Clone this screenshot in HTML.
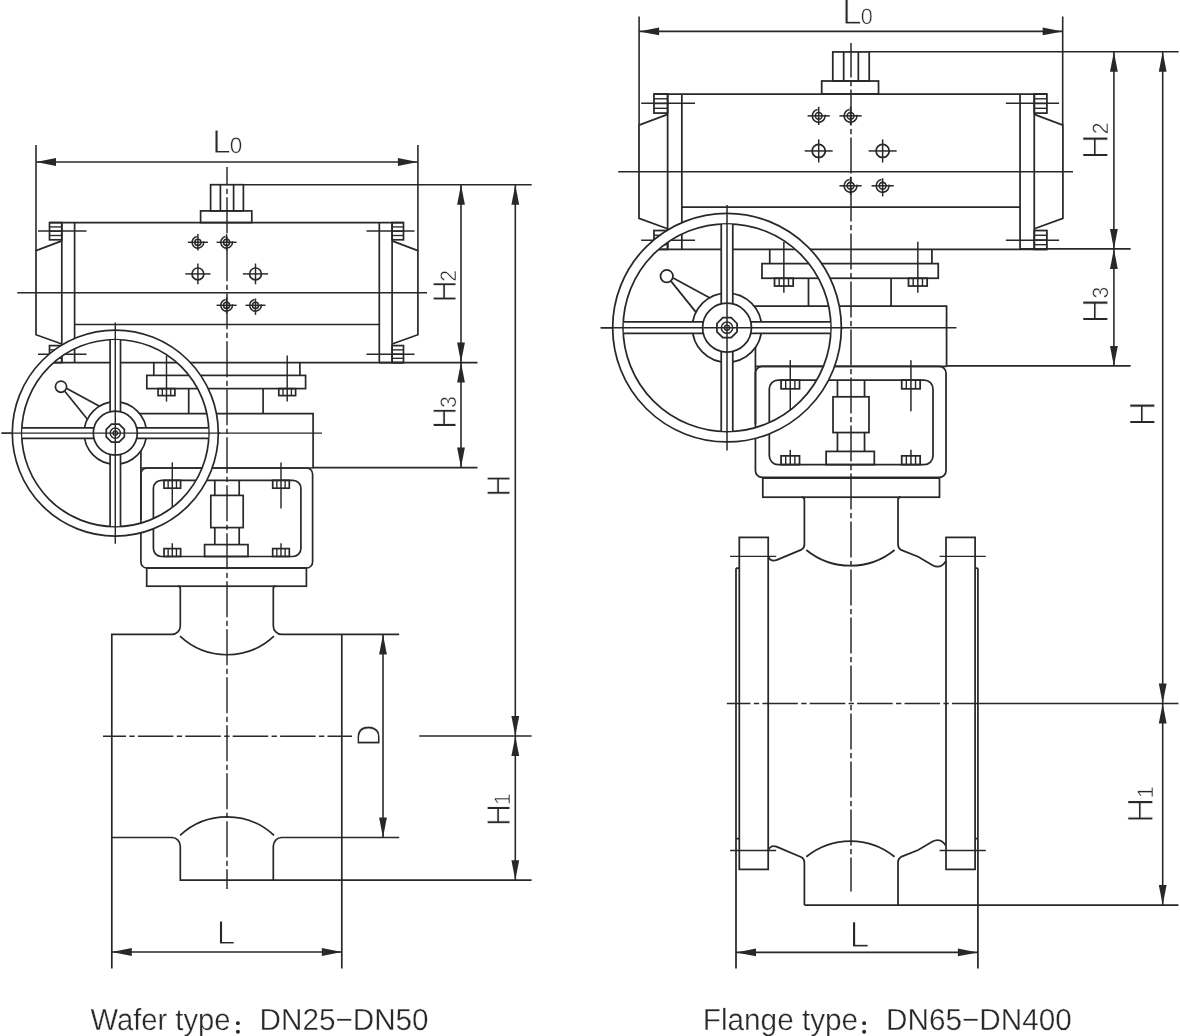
<!DOCTYPE html>
<html><head><meta charset="utf-8"><title>Valve dimensions</title>
<style>html,body{margin:0;padding:0;background:#fff}svg{display:block;filter:grayscale(1)}</style></head>
<body>
<svg width="1180" height="1036" viewBox="0 0 1180 1036" font-family="'Liberation Sans', 'Noto Sans CJK SC', sans-serif">
<rect width="1180" height="1036" fill="#fff"/>
<g stroke="#2b2728" fill="none" stroke-linecap="butt" stroke-linejoin="miter">
<line x1="227" y1="167" x2="227" y2="889" stroke-width="1.45" stroke-dasharray="36 3.4 5.2 3.4" stroke-dashoffset="17.7"/>
<rect x="210.6" y="184.7" width="32.8" height="26.2" fill="none" stroke-width="1.7"/>
<line x1="220.4" y1="184.7" x2="220.4" y2="210.9" stroke-width="1.7"/>
<line x1="233.6" y1="184.7" x2="233.6" y2="210.9" stroke-width="1.7"/>
<rect x="200.6" y="210.9" width="51.2" height="11.7" fill="none" stroke-width="1.7"/>
<line x1="49.5" y1="222.6" x2="403.5" y2="222.6" stroke-width="1.7"/>
<line x1="49.5" y1="362.6" x2="403.5" y2="362.6" stroke-width="1.7"/>
<line x1="61.8" y1="222.6" x2="61.8" y2="362.6" stroke-width="1.7"/>
<line x1="74.6" y1="222.6" x2="74.6" y2="362.6" stroke-width="1.7"/>
<line x1="379.3" y1="222.6" x2="379.3" y2="362.6" stroke-width="1.7"/>
<line x1="392.1" y1="222.6" x2="392.1" y2="362.6" stroke-width="1.7"/>
<line x1="74.6" y1="324.5" x2="379.3" y2="324.5" stroke-width="1.7"/>
<path d="M61.8 240.9 L36 250.6 L36 334.7 L61.8 344" fill="none" stroke-width="1.7"/>
<path d="M392.1 240.9 L417.9 250.6 L417.9 334.7 L392.1 344" fill="none" stroke-width="1.7"/>
<rect x="49.5" y="222.6" width="12.3" height="17.2" fill="none" stroke-width="1.7"/>
<line x1="49.5" y1="226.9" x2="61.8" y2="226.9" stroke-width="1.36"/>
<line x1="49.5" y1="231.2" x2="61.8" y2="231.2" stroke-width="1.36"/>
<line x1="49.5" y1="235.5" x2="61.8" y2="235.5" stroke-width="1.36"/>
<rect x="49.5" y="345.6" width="12.3" height="17" fill="none" stroke-width="1.7"/>
<line x1="49.5" y1="349.85" x2="61.8" y2="349.85" stroke-width="1.36"/>
<line x1="49.5" y1="354.1" x2="61.8" y2="354.1" stroke-width="1.36"/>
<line x1="49.5" y1="358.35" x2="61.8" y2="358.35" stroke-width="1.36"/>
<rect x="392.1" y="222.6" width="11.4" height="17.2" fill="none" stroke-width="1.7"/>
<line x1="392.1" y1="226.9" x2="403.5" y2="226.9" stroke-width="1.36"/>
<line x1="392.1" y1="231.2" x2="403.5" y2="231.2" stroke-width="1.36"/>
<line x1="392.1" y1="235.5" x2="403.5" y2="235.5" stroke-width="1.36"/>
<rect x="392.1" y="345.6" width="11.4" height="17" fill="none" stroke-width="1.7"/>
<line x1="392.1" y1="349.85" x2="403.5" y2="349.85" stroke-width="1.36"/>
<line x1="392.1" y1="354.1" x2="403.5" y2="354.1" stroke-width="1.36"/>
<line x1="392.1" y1="358.35" x2="403.5" y2="358.35" stroke-width="1.36"/>
<line x1="38" y1="230.9" x2="86.5" y2="230.9" stroke-width="1.45"/>
<line x1="366.5" y1="230.9" x2="414.5" y2="230.9" stroke-width="1.45"/>
<line x1="38" y1="354.3" x2="86.5" y2="354.3" stroke-width="1.45"/>
<line x1="366.5" y1="354.3" x2="414.5" y2="354.3" stroke-width="1.45"/>
<line x1="17.3" y1="292.7" x2="427" y2="292.7" stroke-width="1.45"/>
<circle cx="197.9" cy="273.9" r="5.9" fill="none" stroke-width="1.7"/>
<line x1="185.3" y1="273.9" x2="210.5" y2="273.9" stroke-width="1.45"/>
<line x1="197.9" y1="263.5" x2="197.9" y2="284.3" stroke-width="1.45"/>
<circle cx="255.5" cy="273.9" r="5.9" fill="none" stroke-width="1.7"/>
<line x1="242.9" y1="273.9" x2="268.1" y2="273.9" stroke-width="1.45"/>
<line x1="255.5" y1="263.5" x2="255.5" y2="284.3" stroke-width="1.45"/>
<circle cx="197.9" cy="242.3" r="3.1" fill="none" stroke-width="1.53"/>
<path d="M196.89 236.59 A5.8 5.8 0 1 0 203.61 241.29" fill="none" stroke-width="1.53"/>
<line x1="187.9" y1="242.3" x2="207.9" y2="242.3" stroke-width="1.45"/>
<line x1="197.9" y1="234.1" x2="197.9" y2="250.5" stroke-width="1.45"/>
<circle cx="226.6" cy="242.3" r="3.1" fill="none" stroke-width="1.53"/>
<path d="M225.59 236.59 A5.8 5.8 0 1 0 232.31 241.29" fill="none" stroke-width="1.53"/>
<line x1="216.6" y1="242.3" x2="236.6" y2="242.3" stroke-width="1.45"/>
<line x1="226.6" y1="234.1" x2="226.6" y2="250.5" stroke-width="1.45"/>
<circle cx="226.6" cy="305.3" r="3.1" fill="none" stroke-width="1.53"/>
<path d="M225.59 299.59 A5.8 5.8 0 1 0 232.31 304.29" fill="none" stroke-width="1.53"/>
<line x1="216.6" y1="305.3" x2="236.6" y2="305.3" stroke-width="1.45"/>
<line x1="226.6" y1="297.1" x2="226.6" y2="313.5" stroke-width="1.45"/>
<circle cx="255.5" cy="305.3" r="3.1" fill="none" stroke-width="1.53"/>
<path d="M254.49 299.59 A5.8 5.8 0 1 0 261.21 304.29" fill="none" stroke-width="1.53"/>
<line x1="245.5" y1="305.3" x2="265.5" y2="305.3" stroke-width="1.45"/>
<line x1="255.5" y1="298.5" x2="255.5" y2="314.9" stroke-width="1.45"/>
<line x1="153.8" y1="362.6" x2="153.8" y2="375.4" stroke-width="1.7"/>
<line x1="299.9" y1="362.6" x2="299.9" y2="375.4" stroke-width="1.7"/>
<rect x="146.8" y="375.4" width="158.8" height="13.2" fill="none" stroke-width="1.7"/>
<rect x="158.1" y="388.6" width="16.8" height="7" fill="none" stroke-width="1.7"/>
<line x1="162.3" y1="388.6" x2="162.3" y2="395.6" stroke-width="1.36"/>
<line x1="170.7" y1="388.6" x2="170.7" y2="395.6" stroke-width="1.36"/>
<line x1="166.5" y1="355.6" x2="166.5" y2="401.6" stroke-width="1.45"/>
<rect x="278.8" y="388.6" width="16.8" height="7" fill="none" stroke-width="1.7"/>
<line x1="283" y1="388.6" x2="283" y2="395.6" stroke-width="1.36"/>
<line x1="291.4" y1="388.6" x2="291.4" y2="395.6" stroke-width="1.36"/>
<line x1="287.2" y1="355.6" x2="287.2" y2="401.6" stroke-width="1.45"/>
<line x1="188.7" y1="388.6" x2="188.7" y2="413.6" stroke-width="1.7"/>
<line x1="263.1" y1="388.6" x2="263.1" y2="413.6" stroke-width="1.7"/>
<path d="M125 413.6 L313.1 413.6 L313.1 468" fill="none" stroke-width="1.7"/>
<line x1="1.5" y1="433.1" x2="322" y2="433.1" stroke-width="1.45"/>
<line x1="140.9" y1="440" x2="140.9" y2="520" stroke-width="1.7"/>
<line x1="140.9" y1="468" x2="313.1" y2="468" stroke-width="1.7"/>
<rect x="140.9" y="468" width="171.7" height="100" rx="6" fill="none" stroke-width="1.7"/>
<rect x="153.4" y="480.3" width="147.5" height="76.2" rx="8" fill="none" stroke-width="1.7"/>
<rect x="164" y="480.3" width="16.6" height="7.9" fill="none" stroke-width="1.7"/>
<line x1="168.15" y1="480.3" x2="168.15" y2="488.2" stroke-width="1.36"/>
<line x1="176.45" y1="480.3" x2="176.45" y2="488.2" stroke-width="1.36"/>
<line x1="172.3" y1="462.4" x2="172.3" y2="508.4" stroke-width="1.45"/>
<rect x="164" y="548.6" width="16.6" height="7.9" fill="none" stroke-width="1.7"/>
<line x1="168.15" y1="548.6" x2="168.15" y2="556.5" stroke-width="1.36"/>
<line x1="176.45" y1="548.6" x2="176.45" y2="556.5" stroke-width="1.36"/>
<line x1="172.3" y1="543.2" x2="172.3" y2="556.5" stroke-width="1.45"/>
<rect x="272.7" y="480.3" width="16.6" height="7.9" fill="none" stroke-width="1.7"/>
<line x1="276.85" y1="480.3" x2="276.85" y2="488.2" stroke-width="1.36"/>
<line x1="285.15" y1="480.3" x2="285.15" y2="488.2" stroke-width="1.36"/>
<line x1="281" y1="462.4" x2="281" y2="508.4" stroke-width="1.45"/>
<rect x="272.7" y="548.6" width="16.6" height="7.9" fill="none" stroke-width="1.7"/>
<line x1="276.85" y1="548.6" x2="276.85" y2="556.5" stroke-width="1.36"/>
<line x1="285.15" y1="548.6" x2="285.15" y2="556.5" stroke-width="1.36"/>
<line x1="281" y1="543.2" x2="281" y2="556.5" stroke-width="1.45"/>
<line x1="214.8" y1="480.3" x2="214.8" y2="495.4" stroke-width="1.7"/>
<line x1="239.2" y1="480.3" x2="239.2" y2="495.4" stroke-width="1.7"/>
<rect x="210.8" y="495.4" width="32.4" height="32.2" fill="none" stroke-width="1.7"/>
<line x1="214.8" y1="527.6" x2="214.8" y2="544.6" stroke-width="1.7"/>
<line x1="239.2" y1="527.6" x2="239.2" y2="544.6" stroke-width="1.7"/>
<rect x="204.6" y="544.6" width="43.4" height="11.9" fill="none" stroke-width="1.7"/>
<rect x="146.7" y="568" width="159.7" height="18.2" fill="none" stroke-width="1.7"/>
<path d="M111.8 968.5 L111.8 634.4 L172 634.4 A8.5 8.5 0 0 0 180.3 626 L180.3 588.6 Q180.3 586.2 178 586.2" fill="none" stroke-width="1.7"/>
<path d="M275.6 586.2 Q273.3 586.2 273.3 588.6 L273.3 626 A8.5 8.5 0 0 0 281.6 634.4 L399.2 634.4" fill="none" stroke-width="1.7"/>
<line x1="341.8" y1="634.4" x2="341.8" y2="968.5" stroke-width="1.7"/>
<path d="M180 636.2 A68.8 68.8 0 0 0 274 636.2" fill="none" stroke-width="1.7"/>
<path d="M111.8 837.5 L172 837.5 A8.5 8.5 0 0 1 180.3 846 L180.3 880.2 L531.6 880.2" fill="none" stroke-width="1.7"/>
<path d="M399.2 837.5 L281.6 837.5 A8.5 8.5 0 0 0 273.3 846 L273.3 880.2" fill="none" stroke-width="1.7"/>
<path d="M180 835.4 A68.8 68.8 0 0 1 274 835.4" fill="none" stroke-width="1.7"/>
<circle cx="115.3" cy="433.1" r="98.3" fill="none" stroke-width="9.4" stroke="#fff"/>
<circle cx="115.3" cy="433.1" r="103" fill="none" stroke-width="1.7"/>
<circle cx="115.3" cy="433.1" r="93.6" fill="none" stroke-width="1.7"/>
<path d="M64.8 391.2 L88 420" fill="none" stroke-width="1.7"/>
<path d="M66.8 388.4 L100 406.4" fill="none" stroke-width="1.7"/>
<circle cx="61" cy="386.7" r="5.6" fill="#fff" stroke-width="1.7"/>
<circle cx="115.3" cy="433.1" r="31.2" fill="#fff" stroke-width="1.7"/>
<rect x="110.1" y="340.1" width="10.4" height="186" fill="#fff" stroke="none"/>
<rect x="22.3" y="427.9" width="186" height="10.4" fill="#fff" stroke="none"/>
<line x1="110.1" y1="339.64" x2="110.1" y2="526.56" stroke-width="1.7"/>
<line x1="21.84" y1="427.9" x2="208.76" y2="427.9" stroke-width="1.7"/>
<line x1="120.5" y1="339.64" x2="120.5" y2="526.56" stroke-width="1.7"/>
<line x1="21.84" y1="438.3" x2="208.76" y2="438.3" stroke-width="1.7"/>
<circle cx="115.3" cy="433.1" r="22" fill="#fff" stroke-width="1.7"/>
<path d="M124.35 436.85 L119.05 442.15 L111.55 442.15 L106.25 436.85 L106.25 429.35 L111.55 424.05 L119.05 424.05 L124.35 429.35 Z" fill="none" stroke-width="1.7"/>
<circle cx="115.3" cy="433.1" r="5.1" fill="none" stroke-width="1.45"/>
<circle cx="115.3" cy="433.1" r="2.3" fill="none" stroke-width="1.3"/>
<line x1="1.5" y1="433.1" x2="220.3" y2="433.1" stroke-width="1.45"/>
<line x1="115.3" y1="322.5" x2="115.3" y2="543.8" stroke-width="1.45"/>
<line x1="103" y1="736.2" x2="352" y2="736.2" stroke-width="1.45" stroke-dasharray="35.5 3.4 5.3 3.2" stroke-dashoffset="12.5"/>
<line x1="419.2" y1="736" x2="531.6" y2="736" stroke-width="1.6"/>
<line x1="36" y1="145" x2="36" y2="251" stroke-width="1.6"/>
<line x1="417.9" y1="145" x2="417.9" y2="251" stroke-width="1.6"/>
<line x1="36" y1="162" x2="417.9" y2="162" stroke-width="1.6"/>
<path d="M36 162 L56 158.1 L56 165.9 Z" fill="#2b2728" stroke="none"/>
<path d="M417.9 162 L397.9 165.9 L397.9 158.1 Z" fill="#2b2728" stroke="none"/>
<line x1="243.4" y1="184.7" x2="531.7" y2="184.7" stroke-width="1.6"/>
<line x1="379" y1="362.6" x2="477.5" y2="362.6" stroke-width="1.6"/>
<line x1="313.1" y1="467.6" x2="477.5" y2="467.6" stroke-width="1.6"/>
<line x1="461" y1="184.7" x2="461" y2="362.6" stroke-width="1.6"/>
<path d="M461 184.7 L464.9 204.7 L457.1 204.7 Z" fill="#2b2728" stroke="none"/>
<path d="M461 362.6 L457.1 342.6 L464.9 342.6 Z" fill="#2b2728" stroke="none"/>
<line x1="461" y1="362.6" x2="461" y2="467.6" stroke-width="1.6"/>
<path d="M461 362.6 L464.9 382.6 L457.1 382.6 Z" fill="#2b2728" stroke="none"/>
<path d="M461 467.6 L457.1 447.6 L464.9 447.6 Z" fill="#2b2728" stroke="none"/>
<line x1="515.3" y1="184.7" x2="515.3" y2="736" stroke-width="1.6"/>
<path d="M515.3 184.7 L519.2 204.7 L511.4 204.7 Z" fill="#2b2728" stroke="none"/>
<path d="M515.3 736 L511.4 716 L519.2 716 Z" fill="#2b2728" stroke="none"/>
<line x1="515.3" y1="736" x2="515.3" y2="880.2" stroke-width="1.6"/>
<path d="M515.3 736 L519.2 756 L511.4 756 Z" fill="#2b2728" stroke="none"/>
<path d="M515.3 880.2 L511.4 860.2 L519.2 860.2 Z" fill="#2b2728" stroke="none"/>
<line x1="383" y1="634.4" x2="383" y2="837.5" stroke-width="1.6"/>
<path d="M383 634.4 L386.9 654.4 L379.1 654.4 Z" fill="#2b2728" stroke="none"/>
<path d="M383 837.5 L379.1 817.5 L386.9 817.5 Z" fill="#2b2728" stroke="none"/>
<line x1="111.8" y1="952" x2="341.8" y2="952" stroke-width="1.6"/>
<path d="M111.8 952 L131.8 948.1 L131.8 955.9 Z" fill="#2b2728" stroke="none"/>
<path d="M341.8 952 L321.8 955.9 L321.8 948.1 Z" fill="#2b2728" stroke="none"/>
<line x1="851" y1="43" x2="851" y2="891.5" stroke-width="1.5" stroke-dasharray="36 3.4 5.2 3.4" stroke-dashoffset="1.4"/>
<rect x="832.8" y="51.93" width="36.41" height="29.08" fill="none" stroke-width="1.75"/>
<line x1="843.67" y1="51.93" x2="843.67" y2="81.01" stroke-width="1.75"/>
<line x1="858.33" y1="51.93" x2="858.33" y2="81.01" stroke-width="1.75"/>
<rect x="821.7" y="81.01" width="56.83" height="12.99" fill="none" stroke-width="1.75"/>
<line x1="653.98" y1="94" x2="1046.91" y2="94" stroke-width="1.75"/>
<line x1="653.98" y1="249.4" x2="1046.91" y2="249.4" stroke-width="1.75"/>
<line x1="667.63" y1="94" x2="667.63" y2="249.4" stroke-width="1.75"/>
<line x1="681.84" y1="94" x2="681.84" y2="249.4" stroke-width="1.75"/>
<line x1="1020.05" y1="94" x2="1020.05" y2="249.4" stroke-width="1.75"/>
<line x1="1034.26" y1="94" x2="1034.26" y2="249.4" stroke-width="1.75"/>
<line x1="681.84" y1="207.11" x2="1020.05" y2="207.11" stroke-width="1.75"/>
<path d="M667.63 114.31 L638.99 125.08 L638.99 218.43 L667.63 228.75" fill="none" stroke-width="1.75"/>
<path d="M1034.26 114.31 L1062.9 125.08 L1062.9 218.43 L1034.26 228.75" fill="none" stroke-width="1.75"/>
<rect x="653.98" y="94" width="13.65" height="19.09" fill="none" stroke-width="1.75"/>
<line x1="653.98" y1="98.77" x2="667.63" y2="98.77" stroke-width="1.4"/>
<line x1="653.98" y1="103.55" x2="667.63" y2="103.55" stroke-width="1.4"/>
<line x1="653.98" y1="108.32" x2="667.63" y2="108.32" stroke-width="1.4"/>
<rect x="653.98" y="230.53" width="13.65" height="18.87" fill="none" stroke-width="1.75"/>
<line x1="653.98" y1="235.25" x2="667.63" y2="235.25" stroke-width="1.4"/>
<line x1="653.98" y1="239.97" x2="667.63" y2="239.97" stroke-width="1.4"/>
<line x1="653.98" y1="244.68" x2="667.63" y2="244.68" stroke-width="1.4"/>
<rect x="1034.26" y="94" width="12.65" height="19.09" fill="none" stroke-width="1.75"/>
<line x1="1034.26" y1="98.77" x2="1046.91" y2="98.77" stroke-width="1.4"/>
<line x1="1034.26" y1="103.55" x2="1046.91" y2="103.55" stroke-width="1.4"/>
<line x1="1034.26" y1="108.32" x2="1046.91" y2="108.32" stroke-width="1.4"/>
<rect x="1034.26" y="230.53" width="12.65" height="18.87" fill="none" stroke-width="1.75"/>
<line x1="1034.26" y1="235.25" x2="1046.91" y2="235.25" stroke-width="1.4"/>
<line x1="1034.26" y1="239.97" x2="1046.91" y2="239.97" stroke-width="1.4"/>
<line x1="1034.26" y1="244.68" x2="1046.91" y2="244.68" stroke-width="1.4"/>
<line x1="641.21" y1="103.21" x2="695.04" y2="103.21" stroke-width="1.5"/>
<line x1="1005.85" y1="103.21" x2="1059.12" y2="103.21" stroke-width="1.5"/>
<line x1="641.21" y1="240.19" x2="695.04" y2="240.19" stroke-width="1.5"/>
<line x1="1005.85" y1="240.19" x2="1059.12" y2="240.19" stroke-width="1.5"/>
<line x1="618.23" y1="171.81" x2="1073" y2="171.81" stroke-width="1.5"/>
<circle cx="818.7" cy="150.94" r="6.55" fill="none" stroke-width="1.75"/>
<line x1="804.71" y1="150.94" x2="832.68" y2="150.94" stroke-width="1.5"/>
<line x1="818.7" y1="139.4" x2="818.7" y2="162.49" stroke-width="1.5"/>
<circle cx="882.63" cy="150.94" r="6.55" fill="none" stroke-width="1.75"/>
<line x1="868.65" y1="150.94" x2="896.62" y2="150.94" stroke-width="1.5"/>
<line x1="882.63" y1="139.4" x2="882.63" y2="162.49" stroke-width="1.5"/>
<circle cx="818.7" cy="115.87" r="3.44" fill="none" stroke-width="1.57"/>
<path d="M817.58 109.53 A6.44 6.44 0 1 0 825.04 114.75" fill="none" stroke-width="1.57"/>
<line x1="807.6" y1="115.87" x2="829.8" y2="115.87" stroke-width="1.5"/>
<line x1="818.7" y1="106.77" x2="818.7" y2="124.97" stroke-width="1.5"/>
<circle cx="850.56" cy="115.87" r="3.44" fill="none" stroke-width="1.57"/>
<path d="M849.44 109.53 A6.44 6.44 0 1 0 856.9 114.75" fill="none" stroke-width="1.57"/>
<line x1="839.46" y1="115.87" x2="861.66" y2="115.87" stroke-width="1.5"/>
<line x1="850.56" y1="106.77" x2="850.56" y2="124.97" stroke-width="1.5"/>
<circle cx="850.56" cy="185.8" r="3.44" fill="none" stroke-width="1.57"/>
<path d="M849.44 179.46 A6.44 6.44 0 1 0 856.9 184.68" fill="none" stroke-width="1.57"/>
<line x1="839.46" y1="185.8" x2="861.66" y2="185.8" stroke-width="1.5"/>
<line x1="850.56" y1="176.7" x2="850.56" y2="194.9" stroke-width="1.5"/>
<circle cx="882.63" cy="185.8" r="3.44" fill="none" stroke-width="1.57"/>
<path d="M881.52 179.46 A6.44 6.44 0 1 0 888.98 184.68" fill="none" stroke-width="1.57"/>
<line x1="871.53" y1="185.8" x2="893.74" y2="185.8" stroke-width="1.5"/>
<line x1="882.63" y1="178.25" x2="882.63" y2="196.45" stroke-width="1.5"/>
<line x1="769.75" y1="249.4" x2="769.75" y2="263.61" stroke-width="1.75"/>
<line x1="931.92" y1="249.4" x2="931.92" y2="263.61" stroke-width="1.75"/>
<rect x="761.98" y="263.61" width="176.27" height="14.65" fill="none" stroke-width="1.75"/>
<rect x="774.52" y="278.26" width="18.65" height="7.77" fill="none" stroke-width="1.75"/>
<line x1="779.18" y1="278.26" x2="779.18" y2="286.03" stroke-width="1.4"/>
<line x1="788.51" y1="278.26" x2="788.51" y2="286.03" stroke-width="1.4"/>
<line x1="783.85" y1="241.63" x2="783.85" y2="292.69" stroke-width="1.5"/>
<rect x="908.5" y="278.26" width="18.65" height="7.77" fill="none" stroke-width="1.75"/>
<line x1="913.16" y1="278.26" x2="913.16" y2="286.03" stroke-width="1.4"/>
<line x1="922.48" y1="278.26" x2="922.48" y2="286.03" stroke-width="1.4"/>
<line x1="917.82" y1="241.63" x2="917.82" y2="292.69" stroke-width="1.5"/>
<line x1="808.49" y1="278.26" x2="808.49" y2="306.01" stroke-width="1.75"/>
<line x1="891.07" y1="278.26" x2="891.07" y2="306.01" stroke-width="1.75"/>
<path d="M737.78 306.01 L946.57 306.01 L946.57 366.39" fill="none" stroke-width="1.75"/>
<line x1="600.69" y1="327.66" x2="956.45" y2="327.66" stroke-width="1.5"/>
<line x1="755.43" y1="335.31" x2="755.43" y2="424.11" stroke-width="1.75"/>
<line x1="755.43" y1="366.39" x2="946.57" y2="366.39" stroke-width="1.75"/>
<rect x="755.43" y="366.39" width="190.59" height="111" rx="6.66" fill="none" stroke-width="1.75"/>
<rect x="769.3" y="380.05" width="163.72" height="84.58" rx="8.88" fill="none" stroke-width="1.75"/>
<rect x="781.07" y="380.05" width="18.43" height="8.77" fill="none" stroke-width="1.75"/>
<line x1="785.68" y1="380.05" x2="785.68" y2="388.82" stroke-width="1.4"/>
<line x1="794.89" y1="380.05" x2="794.89" y2="388.82" stroke-width="1.4"/>
<line x1="790.28" y1="360.18" x2="790.28" y2="411.24" stroke-width="1.5"/>
<rect x="781.07" y="455.86" width="18.43" height="8.77" fill="none" stroke-width="1.75"/>
<line x1="785.68" y1="455.86" x2="785.68" y2="464.63" stroke-width="1.4"/>
<line x1="794.89" y1="455.86" x2="794.89" y2="464.63" stroke-width="1.4"/>
<line x1="790.28" y1="449.87" x2="790.28" y2="464.63" stroke-width="1.5"/>
<rect x="901.73" y="380.05" width="18.43" height="8.77" fill="none" stroke-width="1.75"/>
<line x1="906.33" y1="380.05" x2="906.33" y2="388.82" stroke-width="1.4"/>
<line x1="915.55" y1="380.05" x2="915.55" y2="388.82" stroke-width="1.4"/>
<line x1="910.94" y1="360.18" x2="910.94" y2="411.24" stroke-width="1.5"/>
<rect x="901.73" y="455.86" width="18.43" height="8.77" fill="none" stroke-width="1.75"/>
<line x1="906.33" y1="455.86" x2="906.33" y2="464.63" stroke-width="1.4"/>
<line x1="915.55" y1="455.86" x2="915.55" y2="464.63" stroke-width="1.4"/>
<line x1="910.94" y1="449.87" x2="910.94" y2="464.63" stroke-width="1.5"/>
<line x1="837.46" y1="380.05" x2="837.46" y2="396.81" stroke-width="1.75"/>
<line x1="864.54" y1="380.05" x2="864.54" y2="396.81" stroke-width="1.75"/>
<rect x="833.02" y="396.81" width="35.96" height="35.74" fill="none" stroke-width="1.75"/>
<line x1="837.46" y1="432.55" x2="837.46" y2="451.42" stroke-width="1.75"/>
<line x1="864.54" y1="432.55" x2="864.54" y2="451.42" stroke-width="1.75"/>
<rect x="826.14" y="451.42" width="48.17" height="13.21" fill="none" stroke-width="1.75"/>
<rect x="762.8" y="478.1" width="176.7" height="19.1" fill="none" stroke-width="1.75"/>
<path d="M801.6 497.2 Q804.4 497.2 804.4 500 L804.4 544.2 Q804.4 548 801.5 549.6 L777 559.9 Q771 562.3 768.2 556.6" fill="none" stroke-width="1.75"/>
<path d="M900.8 497.2 Q898 497.2 898 500 L898 544.2 Q898 548.2 901 549.9 L918.2 556.8 L932.5 565.2 Q940.5 569.6 946 561" fill="none" stroke-width="1.75"/>
<path d="M806.3 550 A69.9 69.9 0 0 0 894.6 550" fill="none" stroke-width="1.75"/>
<line x1="730.1" y1="556.3" x2="776.2" y2="556.3" stroke-width="1.35"/>
<line x1="939.6" y1="556.3" x2="985.8" y2="556.3" stroke-width="1.35"/>
<line x1="736" y1="568.2" x2="739.3" y2="568.2" stroke-width="1.75"/>
<line x1="975.1" y1="568.2" x2="977.9" y2="568.2" stroke-width="1.75"/>
<path d="M804.4 905 L804.4 862.6 Q804.4 858.8 801.5 857.2 L777 846.9 Q771 844.5 768.2 850.2" fill="none" stroke-width="1.75"/>
<path d="M898 905 L898 862.6 Q898 858.6 901 856.9 L918.2 850 L932.5 841.6 Q940.5 837.2 946 845.8" fill="none" stroke-width="1.75"/>
<path d="M806.3 856.8 A69.9 69.9 0 0 1 894.6 856.8" fill="none" stroke-width="1.75"/>
<line x1="730.1" y1="850.5" x2="776.2" y2="850.5" stroke-width="1.35"/>
<line x1="939.6" y1="850.5" x2="985.8" y2="850.5" stroke-width="1.35"/>
<line x1="736" y1="838.6" x2="739.3" y2="838.6" stroke-width="1.75"/>
<line x1="975.1" y1="838.6" x2="977.9" y2="838.6" stroke-width="1.75"/>
<rect x="739.3" y="537.4" width="28.9" height="332" fill="none" stroke-width="1.75"/>
<rect x="946" y="537.4" width="29.1" height="332" fill="none" stroke-width="1.75"/>
<line x1="736" y1="568.2" x2="736" y2="968.6" stroke-width="1.75"/>
<line x1="977.9" y1="568.2" x2="977.9" y2="968.6" stroke-width="1.75"/>
<line x1="804.4" y1="905" x2="1178.4" y2="905" stroke-width="1.75"/>
<circle cx="727.01" cy="327.66" r="109.11" fill="none" stroke-width="10.43" stroke="#fff"/>
<circle cx="727.01" cy="327.66" r="114.33" fill="none" stroke-width="1.75"/>
<circle cx="727.01" cy="327.66" r="103.9" fill="none" stroke-width="1.75"/>
<path d="M670.96 281.15 L696.71 313.11" fill="none" stroke-width="1.75"/>
<path d="M673.18 278.04 L710.03 298.02" fill="none" stroke-width="1.75"/>
<circle cx="666.74" cy="276.15" r="6.22" fill="#fff" stroke-width="1.75"/>
<circle cx="727.01" cy="327.66" r="34.63" fill="#fff" stroke-width="1.75"/>
<rect x="721.24" y="224.43" width="11.54" height="206.46" fill="#fff" stroke="none"/>
<rect x="623.78" y="321.88" width="206.46" height="11.54" fill="#fff" stroke="none"/>
<line x1="721.24" y1="223.92" x2="721.24" y2="431.39" stroke-width="1.75"/>
<line x1="623.28" y1="321.88" x2="830.75" y2="321.88" stroke-width="1.75"/>
<line x1="732.78" y1="223.92" x2="732.78" y2="431.39" stroke-width="1.75"/>
<line x1="623.28" y1="333.43" x2="830.75" y2="333.43" stroke-width="1.75"/>
<circle cx="727.01" cy="327.66" r="24.42" fill="#fff" stroke-width="1.75"/>
<path d="M737.06 331.82 L731.18 337.7 L722.85 337.7 L716.96 331.82 L716.96 323.49 L722.85 317.61 L731.18 317.61 L737.06 323.49 Z" fill="none" stroke-width="1.75"/>
<circle cx="727.01" cy="327.66" r="5.66" fill="none" stroke-width="1.5"/>
<circle cx="727.01" cy="327.66" r="2.55" fill="none" stroke-width="1.35"/>
<line x1="600.69" y1="327.66" x2="843.56" y2="327.66" stroke-width="1.5"/>
<line x1="727.01" y1="204.89" x2="727.01" y2="450.53" stroke-width="1.5"/>
<line x1="726.8" y1="703.4" x2="965" y2="703.4" stroke-width="1.5" stroke-dasharray="35.5 3.4 5.3 3.2" stroke-dashoffset="11.85"/>
<line x1="965" y1="703.4" x2="1178.4" y2="703.4" stroke-width="1.5"/>
<line x1="639.1" y1="16.5" x2="639.1" y2="125" stroke-width="1.6"/>
<line x1="1062.7" y1="16.5" x2="1062.7" y2="125" stroke-width="1.6"/>
<line x1="639.1" y1="31.4" x2="1062.7" y2="31.4" stroke-width="1.6"/>
<path d="M639.1 31.4 L659.1 27.5 L659.1 35.3 Z" fill="#2b2728" stroke="none"/>
<path d="M1062.7 31.4 L1042.7 35.3 L1042.7 27.5 Z" fill="#2b2728" stroke="none"/>
<line x1="869.5" y1="51.8" x2="1178.6" y2="51.8" stroke-width="1.6"/>
<line x1="1020" y1="248.9" x2="1130.6" y2="248.9" stroke-width="1.6"/>
<line x1="946.3" y1="365.9" x2="1130.6" y2="365.9" stroke-width="1.6"/>
<line x1="1113.9" y1="51.8" x2="1113.9" y2="248.9" stroke-width="1.6"/>
<path d="M1113.9 51.8 L1117.8 71.8 L1110 71.8 Z" fill="#2b2728" stroke="none"/>
<path d="M1113.9 248.9 L1110 228.9 L1117.8 228.9 Z" fill="#2b2728" stroke="none"/>
<line x1="1113.9" y1="248.9" x2="1113.9" y2="365.9" stroke-width="1.6"/>
<path d="M1113.9 248.9 L1117.8 268.9 L1110 268.9 Z" fill="#2b2728" stroke="none"/>
<path d="M1113.9 365.9 L1110 345.9 L1117.8 345.9 Z" fill="#2b2728" stroke="none"/>
<line x1="1162.7" y1="51.8" x2="1162.7" y2="703.4" stroke-width="1.6"/>
<path d="M1162.7 51.8 L1166.6 71.8 L1158.8 71.8 Z" fill="#2b2728" stroke="none"/>
<path d="M1162.7 703.4 L1158.8 683.4 L1166.6 683.4 Z" fill="#2b2728" stroke="none"/>
<line x1="1162.7" y1="703.4" x2="1162.7" y2="905" stroke-width="1.6"/>
<path d="M1162.7 703.4 L1166.6 723.4 L1158.8 723.4 Z" fill="#2b2728" stroke="none"/>
<path d="M1162.7 905 L1158.8 885 L1166.6 885 Z" fill="#2b2728" stroke="none"/>
<line x1="736" y1="952.4" x2="977.9" y2="952.4" stroke-width="1.6"/>
<path d="M736 952.4 L756 948.5 L756 956.3 Z" fill="#2b2728" stroke="none"/>
<path d="M977.9 952.4 L957.9 956.3 L957.9 948.5 Z" fill="#2b2728" stroke="none"/>
</g>
<g style="text-rendering:geometricPrecision">
<text transform="translate(212.3 153.2) scale(1 1)" font-size="33.3" stroke="#fff" stroke-width="0.9" fill="#2b2728">L<tspan font-size="22.5" stroke-width="0.5" dx="-1">0</tspan></text>
<text transform="translate(216.7 944) scale(1 1)" font-size="33.3" stroke="#fff" stroke-width="0.9" fill="#2b2728">L</text>
<text transform="translate(455.9 302.6) rotate(-90) scale(0.92 1)" font-size="33.3" stroke="#fff" stroke-width="0.9" fill="#2b2728">H<tspan font-size="22.5" stroke-width="0.5" dx="-1">2</tspan></text>
<text transform="translate(455.9 429) rotate(-90) scale(0.92 1)" font-size="33.3" stroke="#fff" stroke-width="0.9" fill="#2b2728">H<tspan font-size="22.5" stroke-width="0.5" dx="-1">3</tspan></text>
<text transform="translate(510 496.7) rotate(-90) scale(0.92 1)" font-size="33.3" stroke="#fff" stroke-width="0.9" fill="#2b2728">H</text>
<text transform="translate(509.8 826.2) rotate(-90) scale(0.92 1)" font-size="33.3" stroke="#fff" stroke-width="0.9" fill="#2b2728">H<tspan font-size="22.5" stroke-width="0.5" dx="-1">1</tspan></text>
<text transform="translate(379.8 746.6) rotate(-90) scale(0.91 1)" font-size="33.3" stroke="#fff" stroke-width="0.9" fill="#2b2728">D</text>
<text transform="translate(841.9 24.1) scale(0.97 1)" font-size="36.9" stroke="#fff" stroke-width="1.15" fill="#2b2728">L<tspan font-size="22.3" stroke-width="0.5" dx="-1">0</tspan></text>
<text transform="translate(849.5 946.6) scale(0.97 1)" font-size="36.9" stroke="#fff" stroke-width="1.15" fill="#2b2728">L</text>
<text transform="translate(1107.7 159.4) rotate(-90) scale(0.95 1)" font-size="36.9" stroke="#fff" stroke-width="1.15" fill="#2b2728">H<tspan font-size="22.3" stroke-width="0.5" dx="-0.2">2</tspan></text>
<text transform="translate(1107.7 323.6) rotate(-90) scale(0.95 1)" font-size="36.9" stroke="#fff" stroke-width="1.15" fill="#2b2728">H<tspan font-size="22.3" stroke-width="0.5" dx="-0.2">3</tspan></text>
<text transform="translate(1154.8 426.5) rotate(-90) scale(0.95 1)" font-size="36.9" stroke="#fff" stroke-width="1.15" fill="#2b2728">H</text>
<text transform="translate(1152.5 823.1) rotate(-90) scale(0.95 1)" font-size="36.9" stroke="#fff" stroke-width="1.15" fill="#2b2728">H<tspan font-size="22.3" stroke-width="0.5" dx="-0.2">1</tspan></text>
<text x="90.4" y="1029.8" font-size="30.5" textLength="140.2" lengthAdjust="spacingAndGlyphs" stroke="#fff" stroke-width="0.35" fill="#2b2728">Wafer type</text>
<text x="233.6" y="1033" font-size="17.6" stroke="#2b2728" stroke-width="1.3" fill="#2b2728">：</text>
<text x="259.6" y="1029.8" font-size="30.5" textLength="169" lengthAdjust="spacingAndGlyphs" stroke="#fff" stroke-width="0.35" fill="#2b2728">DN25−DN50</text>
<text x="702.8" y="1029.8" font-size="30.5" textLength="155.3" lengthAdjust="spacingAndGlyphs" stroke="#fff" stroke-width="0.35" fill="#2b2728">Flange type</text>
<text x="859.8" y="1033" font-size="17.6" stroke="#2b2728" stroke-width="1.3" fill="#2b2728">：</text>
<text x="886.1" y="1029.8" font-size="30.5" textLength="185.7" lengthAdjust="spacingAndGlyphs" stroke="#fff" stroke-width="0.35" fill="#2b2728">DN65−DN400</text>
</g>
</svg>
</body></html>
